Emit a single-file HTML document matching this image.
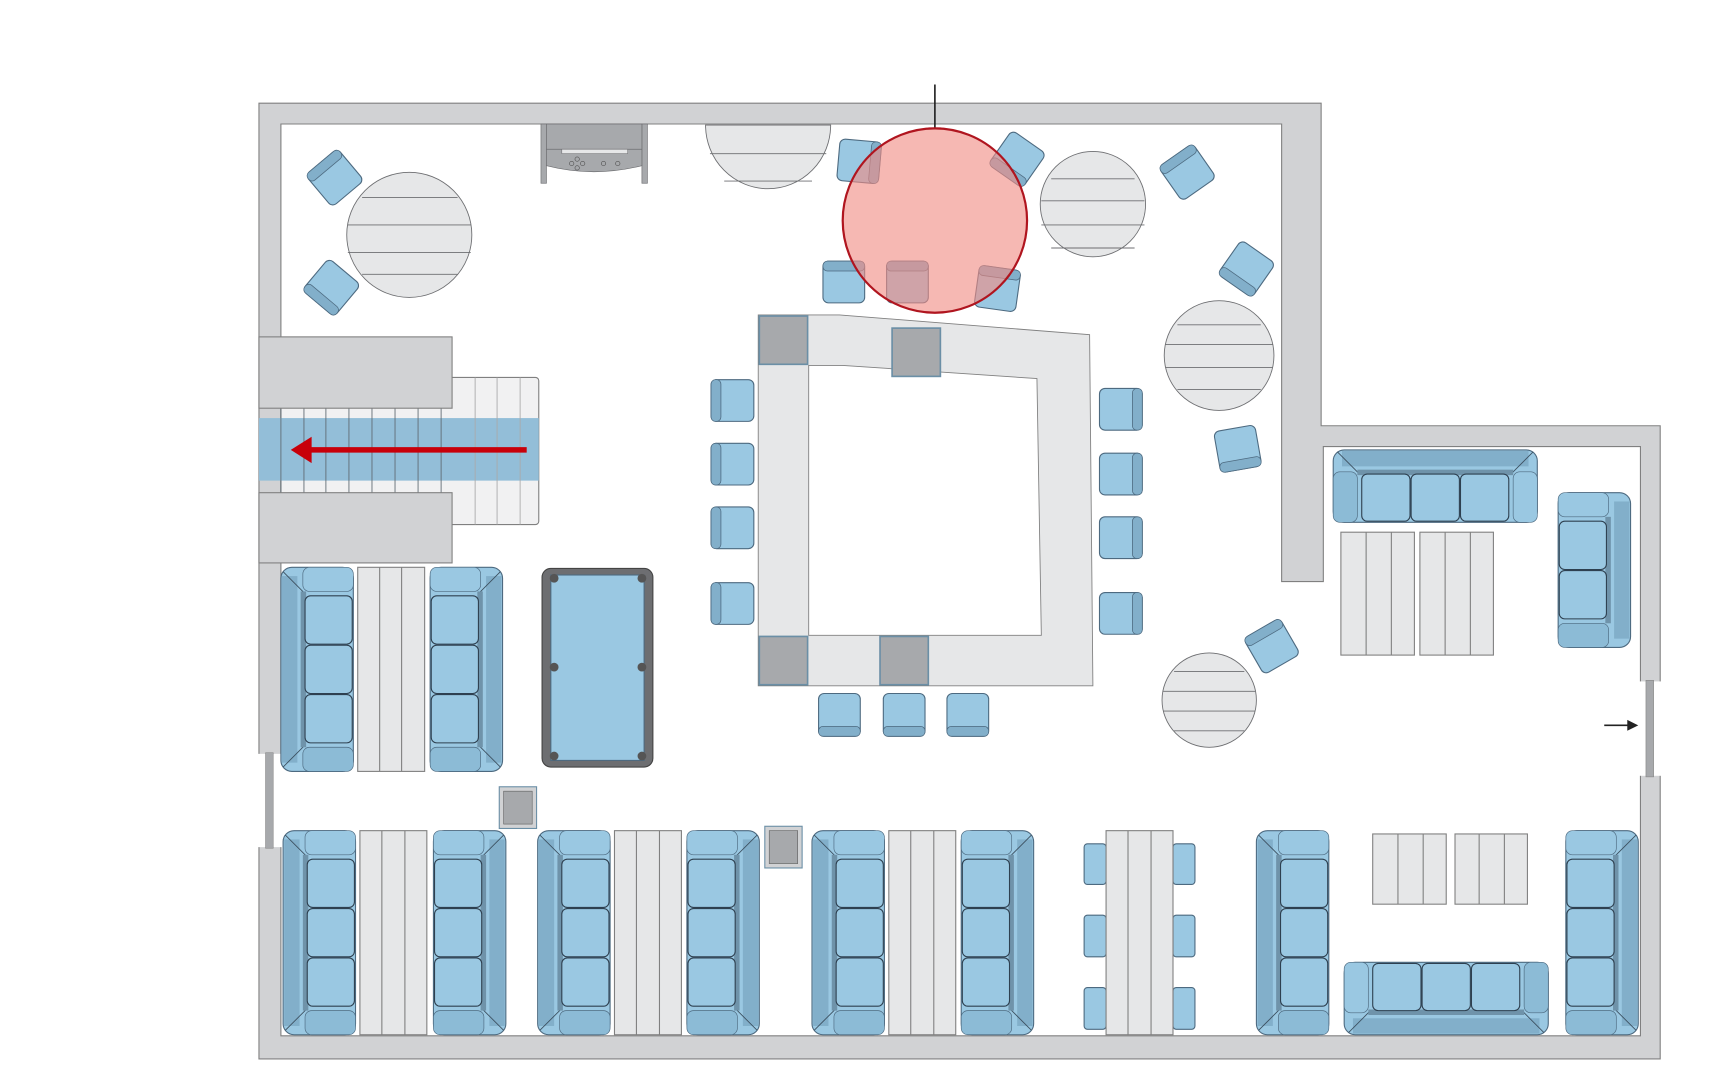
<!DOCTYPE html>
<html><head><meta charset="utf-8"><style>html,body{margin:0;padding:0;background:#fff}svg{display:block}</style></head>
<body>
<svg width="1720" height="1078" viewBox="0 0 1567.5 982.4" xmlns="http://www.w3.org/2000/svg">
<defs>
<g id="s3">
 <rect x="0" y="0" width="66" height="186" rx="10" fill="#9ac8e2" stroke="#4d6a80"/>
 <rect x="1" y="8" width="14" height="170" fill="#82afca"/>
 <path d="M2 4 L22 24 M2 182 L22 162" stroke="#3c5060" stroke-width="0.8"/>
 <rect x="20" y="0" width="46" height="22" rx="6" fill="#9ac8e2" stroke="#4d6a80" stroke-width="0.6"/>
 <rect x="20" y="164" width="46" height="22" rx="6" fill="#8cbbd6" stroke="#4d6a80" stroke-width="0.6"/>
 <rect x="18" y="22" width="5" height="142" fill="#6f93aa"/>
 <rect x="22" y="26" width="43" height="44" rx="5" fill="#9ac8e2" stroke="#2e4050"/>
 <rect x="22" y="71" width="43" height="44" rx="5" fill="#9ac8e2" stroke="#2e4050"/>
 <rect x="22" y="116" width="43" height="44" rx="5" fill="#9ac8e2" stroke="#2e4050"/>
</g>
<g id="s2">
 <rect x="0" y="0" width="66" height="141" rx="10" fill="#9ac8e2" stroke="#4d6a80"/>
 <rect x="1" y="8" width="14" height="125" fill="#82afca"/>
 <rect x="20" y="0" width="46" height="22" rx="6" fill="#9ac8e2" stroke="#4d6a80" stroke-width="0.6"/>
 <rect x="20" y="119" width="46" height="22" rx="6" fill="#8cbbd6" stroke="#4d6a80" stroke-width="0.6"/>
 <rect x="18" y="22" width="5" height="97" fill="#6f93aa"/>
 <rect x="22" y="26" width="43" height="44" rx="5" fill="#9ac8e2" stroke="#2e4050"/>
 <rect x="22" y="71" width="43" height="44" rx="5" fill="#9ac8e2" stroke="#2e4050"/>
</g>
<g id="tb">
 <rect x="0" y="0" width="61" height="186" fill="#e6e7e8" stroke="#808080"/>
 <line x1="20" y1="0" x2="20" y2="186" stroke="#808080"/>
 <line x1="41" y1="0" x2="41" y2="186" stroke="#808080"/>
</g>
<g id="st">
 <rect x="0" y="0" width="39" height="38" rx="5" fill="#9ac8e2" stroke="#4d6a80"/>
 <rect x="0" y="0" width="9" height="38" rx="4" fill="#82afca" stroke="#4d6a80" stroke-width="0.7"/>
</g>
<g id="ch">
 <rect x="-19" y="-19" width="38" height="38" rx="5" fill="#9ac8e2" stroke="#4d6a80"/>
 <rect x="-19" y="-19" width="38" height="9" rx="4" fill="#82afca" stroke="#4d6a80" stroke-width="0.7"/>
</g>
<g id="sq"><rect x="0" y="0" width="44" height="44" fill="#a7a9ac" stroke="#6b8fa6" stroke-width="1.5"/></g>
</defs>

<path fill-rule="evenodd" fill="#d1d2d4" stroke="#808080" stroke-width="1"
 d="M236 94 H1204 V388 H1513 V965 H236 Z M256 113 H1168 V530 H1206 V407 H1495 V944 H256 Z"/>
<rect x="1494" y="621" width="20" height="86" fill="#fff"/>
<rect x="1500" y="620" width="7" height="88" fill="#a7a9ac" stroke="#808080" stroke-width="0.5"/>
<rect x="235" y="687" width="22" height="85" fill="#fff"/>
<rect x="242" y="686" width="7" height="87" fill="#a7a9ac" stroke="#808080" stroke-width="0.5"/>

<rect x="256" y="344" width="235" height="134" rx="3" fill="#f1f1f2" stroke="#808080"/>
<rect x="236" y="381" width="255" height="57" fill="#93bed8"/>
<g stroke="#5f6a72" stroke-width="0.8">
<line x1="256" y1="372" x2="256" y2="449"/><line x1="277" y1="372" x2="277" y2="449"/><line x1="297" y1="372" x2="297" y2="449"/><line x1="318" y1="372" x2="318" y2="449"/><line x1="339" y1="372" x2="339" y2="449"/><line x1="360" y1="372" x2="360" y2="449"/><line x1="381" y1="372" x2="381" y2="449"/><line x1="402" y1="372" x2="402" y2="449"/>
<line x1="433" y1="344" x2="433" y2="478" stroke="#aaa"/><line x1="453" y1="344" x2="453" y2="478" stroke="#aaa"/><line x1="474" y1="344" x2="474" y2="478" stroke="#aaa"/>
</g>
<rect x="236" y="307" width="176" height="65" fill="#d1d2d4" stroke="#808080"/>
<rect x="236" y="449" width="176" height="64" fill="#d1d2d4" stroke="#808080"/>
<line x1="480" y1="410" x2="282" y2="410" stroke="#c8000a" stroke-width="5"/>
<polygon points="265,410 284,398 284,422" fill="#c8000a"/>

<rect x="493" y="113" width="5" height="54" fill="#a7a9ac" stroke="#6d6e71" stroke-width="0.6"/>
<rect x="585" y="113" width="5" height="54" fill="#a7a9ac" stroke="#6d6e71" stroke-width="0.6"/>
<path d="M498 113 H585 V151 Q541 162 498 151 Z" fill="#a7a9ac" stroke="#6d6e71" stroke-width="0.6"/>
<line x1="498" y1="136" x2="585" y2="136" stroke="#6d6e71" stroke-width="0.6"/>
<rect x="512" y="136" width="60" height="4" fill="#e6e7e8" stroke="#6d6e71" stroke-width="0.5"/>
<g fill="none" stroke="#555" stroke-width="0.6"><circle cx="526" cy="145" r="2"/><circle cx="521" cy="149" r="2"/><circle cx="531" cy="149" r="2"/><circle cx="526" cy="153" r="2"/><circle cx="550" cy="149" r="2"/><circle cx="563" cy="149" r="2"/></g>

<g fill="#e6e7e8" stroke="#6d6e71" stroke-width="0.8">
<circle cx="373" cy="214" r="57"/>
<path d="M643 114 H757 A57 58 0 0 1 643 114 Z"/>
<circle cx="996" cy="186" r="48"/>
<circle cx="1111" cy="324" r="50"/>
<circle cx="1102" cy="638" r="43"/>
</g>
<g stroke="#6d6e71" stroke-width="0.8">
<line x1="330" y1="180" x2="417" y2="180"/><line x1="317" y1="205" x2="429" y2="205"/><line x1="317" y1="230" x2="429" y2="230"/><line x1="330" y1="250" x2="417" y2="250"/>
<line x1="647" y1="140" x2="753" y2="140"/><line x1="660" y1="165" x2="740" y2="165"/>
<line x1="958" y1="163" x2="1034" y2="163"/><line x1="949" y1="183" x2="1043" y2="183"/><line x1="949" y1="205" x2="1043" y2="205"/><line x1="958" y1="226" x2="1034" y2="226"/>
<line x1="1073" y1="296" x2="1149" y2="296"/><line x1="1062" y1="314" x2="1160" y2="314"/><line x1="1062" y1="335" x2="1160" y2="335"/><line x1="1073" y1="355" x2="1149" y2="355"/>
<line x1="1070" y1="612" x2="1134" y2="612"/><line x1="1060" y1="630" x2="1144" y2="630"/><line x1="1060" y1="648" x2="1144" y2="648"/><line x1="1070" y1="666" x2="1134" y2="666"/>
</g>

<use href="#ch" transform="translate(305,162) rotate(-40)"/>
<use href="#ch" transform="translate(302,262) rotate(-140)"/>
<use href="#ch" transform="translate(783,147) rotate(95)"/>
<use href="#ch" transform="translate(927,145) rotate(-145)"/>
<use href="#ch" transform="translate(1082,157) rotate(-35)"/>
<use href="#ch" transform="translate(1136,245) rotate(-145)"/>
<use href="#ch" transform="translate(1128,409) rotate(170)"/>
<use href="#ch" transform="translate(1159,589) rotate(-30)"/>
<use href="#ch" transform="translate(769,257)"/>
<use href="#ch" transform="translate(827,257)"/>
<use href="#ch" transform="translate(909,263) rotate(8)"/>

<path fill-rule="evenodd" fill="#e6e7e8" stroke="#808080" stroke-width="0.8"
 d="M691 287 H765 L993 305 L996 625 H691 Z M737 333 L768 333 L945 345 L949 579 H737 Z"/>
<use href="#sq" x="692" y="288"/><use href="#sq" x="813" y="299"/>
<use href="#sq" x="692" y="580"/><use href="#sq" x="802" y="580"/>
<use href="#st" x="648" y="346"/><use href="#st" x="648" y="404"/><use href="#st" x="648" y="462"/><use href="#st" x="648" y="531"/>
<use href="#st" transform="translate(1041,354) scale(-1,1)"/><use href="#st" transform="translate(1041,413) scale(-1,1)"/><use href="#st" transform="translate(1041,471) scale(-1,1)"/><use href="#st" transform="translate(1041,540) scale(-1,1)"/>
<use href="#st" transform="translate(746,671) rotate(-90)"/><use href="#st" transform="translate(805,671) rotate(-90)"/><use href="#st" transform="translate(863,671) rotate(-90)"/>

<line x1="852" y1="77" x2="852" y2="118" stroke="#222" stroke-width="1.5"/>
<circle cx="852" cy="201" r="84" fill="#f08d85" fill-opacity="0.62" stroke="#b0151f" stroke-width="2"/>

<use href="#s3" transform="translate(256,517)"/>
<rect x="326" y="517" width="61" height="186" fill="#e6e7e8" stroke="#808080"/>
<line x1="346" y1="517" x2="346" y2="703" stroke="#808080"/><line x1="366" y1="517" x2="366" y2="703" stroke="#808080"/>
<use href="#s3" transform="translate(458,517) scale(-1,1)"/>

<rect x="494" y="518" width="101" height="181" rx="8" fill="#6d6e71" stroke="#444"/>
<rect x="502" y="524" width="85" height="169" fill="#9ac8e2" stroke="#4d6a80"/>
<g fill="#555"><circle cx="505" cy="527" r="4"/><circle cx="585" cy="527" r="4"/><circle cx="505" cy="608" r="4"/><circle cx="585" cy="608" r="4"/><circle cx="505" cy="689" r="4"/><circle cx="585" cy="689" r="4"/></g>

<rect x="455" y="717" width="34" height="38" fill="#d1d2d4" stroke="#6b8fa6"/><rect x="459" y="721" width="26" height="30" fill="#a7a9ac" stroke="#555" stroke-width="0.5"/>
<rect x="697" y="753" width="34" height="38" fill="#d1d2d4" stroke="#6b8fa6"/><rect x="701" y="757" width="26" height="30" fill="#a7a9ac" stroke="#555" stroke-width="0.5"/>

<use href="#s3" transform="translate(258,757)"/><use href="#tb" x="328" y="757"/><use href="#s3" transform="translate(461,757) scale(-1,1)"/>
<use href="#s3" transform="translate(490,757)"/><use href="#tb" x="560" y="757"/><use href="#s3" transform="translate(692,757) scale(-1,1)"/>
<use href="#s3" transform="translate(740,757)"/><use href="#tb" x="810" y="757"/><use href="#s3" transform="translate(942,757) scale(-1,1)"/>

<g fill="#9ac8e2" stroke="#4d6a80">
<rect x="988" y="769" width="20" height="37" rx="3"/><rect x="988" y="834" width="20" height="38" rx="3"/><rect x="988" y="900" width="20" height="38" rx="3"/>
<rect x="1069" y="769" width="20" height="37" rx="3"/><rect x="1069" y="834" width="20" height="38" rx="3"/><rect x="1069" y="900" width="20" height="38" rx="3"/>
</g>
<use href="#tb" x="1008" y="757"/>

<use href="#s3" transform="translate(1145,757)"/>
<use href="#s3" transform="translate(1225,943) rotate(-90)"/>
<use href="#s3" transform="translate(1493,757) scale(-1,1)"/>
<g fill="#e6e7e8" stroke="#808080">
<rect x="1251" y="760" width="67" height="64"/><rect x="1326" y="760" width="66" height="64"/>
<rect x="1222" y="485" width="67" height="112"/><rect x="1294" y="485" width="67" height="112"/>
</g>
<g stroke="#808080">
<line x1="1274" y1="760" x2="1274" y2="824"/><line x1="1297" y1="760" x2="1297" y2="824"/>
<line x1="1348" y1="760" x2="1348" y2="824"/><line x1="1371" y1="760" x2="1371" y2="824"/>
<line x1="1245" y1="485" x2="1245" y2="597"/><line x1="1268" y1="485" x2="1268" y2="597"/>
<line x1="1317" y1="485" x2="1317" y2="597"/><line x1="1340" y1="485" x2="1340" y2="597"/>
</g>

<use href="#s3" transform="translate(1401,410) rotate(90)"/>
<use href="#s2" transform="translate(1486,449) scale(-1,1)"/>

<line x1="1462" y1="661" x2="1485" y2="661" stroke="#222" stroke-width="1.5"/>
<polygon points="1493,661 1483,656 1483,666" fill="#222"/>
</svg>
</body></html>
